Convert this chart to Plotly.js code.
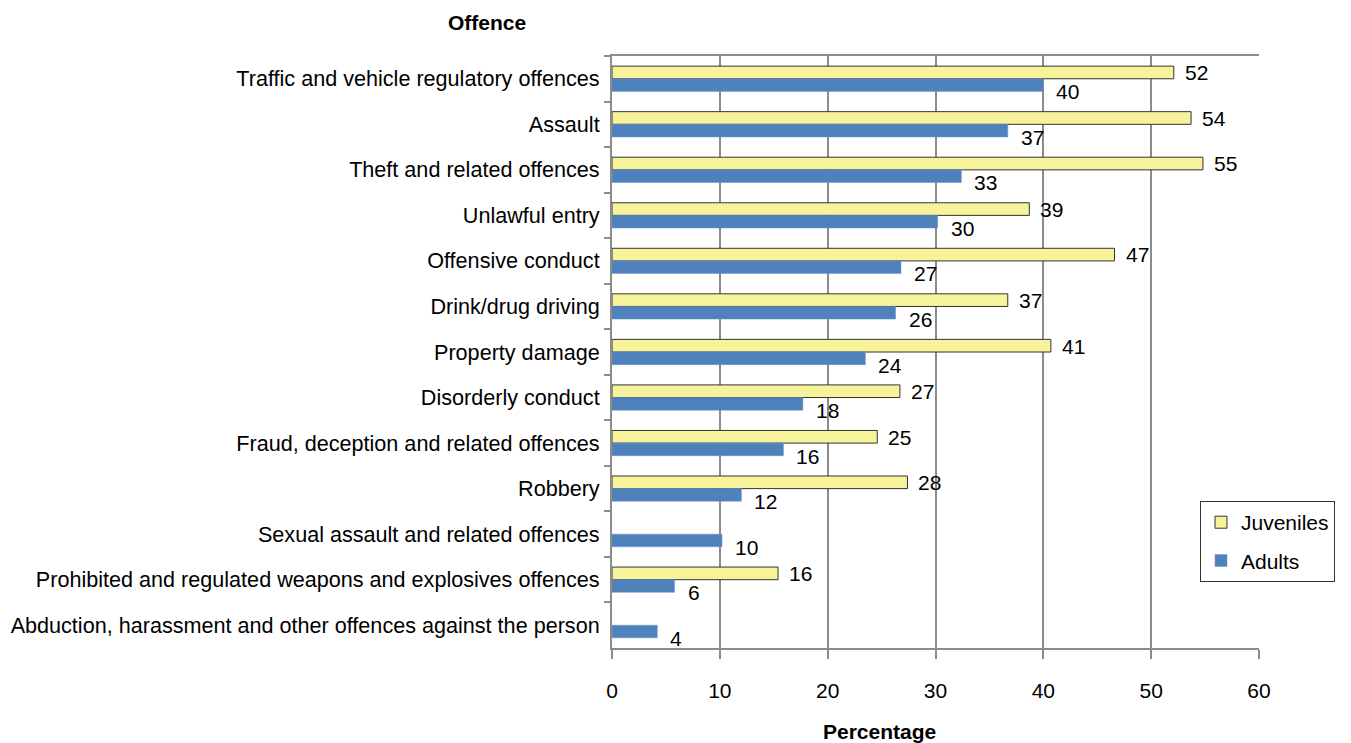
<!DOCTYPE html>
<html>
<head>
<meta charset="utf-8">
<script src="https://cdn.plot.ly/plotly-3.0.1.min.js"></script>
<style>
html,body{margin:0;padding:0;background:#fff;}
#chart{width:1351px;height:743px;}
</style>
</head>
<body>
<div id="chart"></div>
<script>
const categories = [
  "Traffic and vehicle regulatory offences",
  "Assault",
  "Theft and related offences",
  "Unlawful entry",
  "Offensive conduct",
  "Drink/drug driving",
  "Property damage",
  "Disorderly conduct",
  "Fraud, deception and related offences",
  "Robbery",
  "Sexual assault and related offences",
  "Prohibited and regulated weapons and explosives offences",
  "Abduction, harassment and other offences against the person"
];
const juveniles = [52.1, 53.7, 54.8, 38.7, 46.6, 36.7, 40.7, 26.7, 24.6, 27.4, null, 15.4, null];
const adults    = [40.0, 36.7, 32.4, 30.2, 26.8, 26.3, 23.5, 17.7, 15.9, 12.0, 10.2, 5.8, 4.2];
const juvenileLabels = ["52", "54", "55", "39", "47", "37", "41", "27", "25", "28", null, "16", null];
const adultLabels    = ["40", "37", "33", "30", "27", "26", "24", "18", "16", "12", "10", "6", "4"];
const xTicks = [0, 10, 20, 30, 40, 50, 60];

const FONT = "Liberation Sans, Arial, Helvetica, sans-serif";
const GRID = "#8c8c8c";

const traces = [
  {
    type: "bar", orientation: "h", name: "Juveniles",
    y: categories, x: juveniles, legendgroup: "j",
    marker: {color: "#F7F39B", line: {color: "#333333", width: 1}},
    hoverinfo: "x+y"
  },
  {
    type: "bar", orientation: "h", name: "Adults",
    y: categories, x: adults, legendgroup: "a",
    marker: {color: "#4F81BD", line: {color: "#6a95cc", width: 0.5}},
    hoverinfo: "x+y"
  }
];

const annotations = [];
categories.forEach((c, i) => {
  if (juveniles[i] !== null) {
    annotations.push({x: juveniles[i], y: c, xref: "x", yref: "y", text: juvenileLabels[i],
      showarrow: false, xanchor: "left", yanchor: "middle", xshift: 9, yshift: 6,
      font: {family: FONT, size: 21, color: "#000"}});
  }
  if (adults[i] !== null) {
    annotations.push({x: adults[i], y: c, xref: "x", yref: "y", text: adultLabels[i],
      showarrow: false, xanchor: "left", yanchor: "middle", xshift: 11, yshift: -13,
      font: {family: FONT, size: 21, color: "#000"}});
  }
});
annotations.push({xref: "paper", yref: "paper", x: -0.1932, y: 1.0569, text: "<b>Offence</b>",
  showarrow: false, xanchor: "center", yanchor: "middle", font: {family: FONT, size: 21, color: "#000"}});
annotations.push({xref: "paper", yref: "paper", x: 0.4142, y: -0.1418, text: "<b>Percentage</b>",
  showarrow: false, xanchor: "center", yanchor: "middle", font: {family: FONT, size: 21, color: "#000"}});

const layout = {
  width: 1351, height: 743,
  margin: {l: 612, r: 92, t: 56, b: 95, autoexpand: false},
  paper_bgcolor: "#ffffff", plot_bgcolor: "#ffffff",
  font: {family: FONT, size: 21, color: "#000"},
  barmode: "group", bargap: 0.445, bargroupgap: 0,
  xaxis: {
    range: [0, 60], tickvals: xTicks, ticktext: xTicks.map(String),
    showgrid: true, gridcolor: GRID, gridwidth: 2,
    showline: true, linecolor: GRID, linewidth: 2, mirror: true,
    ticks: "outside", ticklen: 9, tickcolor: GRID, tickwidth: 2,
    ticklabelstandoff: 14, zeroline: false,
    tickfont: {family: FONT, size: 21, color: "#000"}
  },
  yaxis: {
    type: "category", categoryorder: "array", categoryarray: categories,
    range: [12.5, -0.5], autorange: false, showgrid: false,
    showline: true, linecolor: GRID, linewidth: 2,
    ticks: "outside", tickson: "boundaries", ticklen: 6, tickcolor: GRID, tickwidth: 2,
    ticklabelstandoff: 6,
    tickfont: {family: FONT, size: 21.6, color: "#000"}
  },
  legend: {
    x: 0.9088, y: 0.2482, xanchor: "left", yanchor: "top",
    bgcolor: "#ffffff", bordercolor: "#333333", borderwidth: 1,
    traceorder: "grouped", tracegroupgap: 8,
    font: {family: FONT, size: 21, color: "#000"}
  },
  annotations: annotations,
  showlegend: true
};

Plotly.newPlot("chart", traces, layout, {displayModeBar: false, staticPlot: true});
</script>
</body>
</html>
